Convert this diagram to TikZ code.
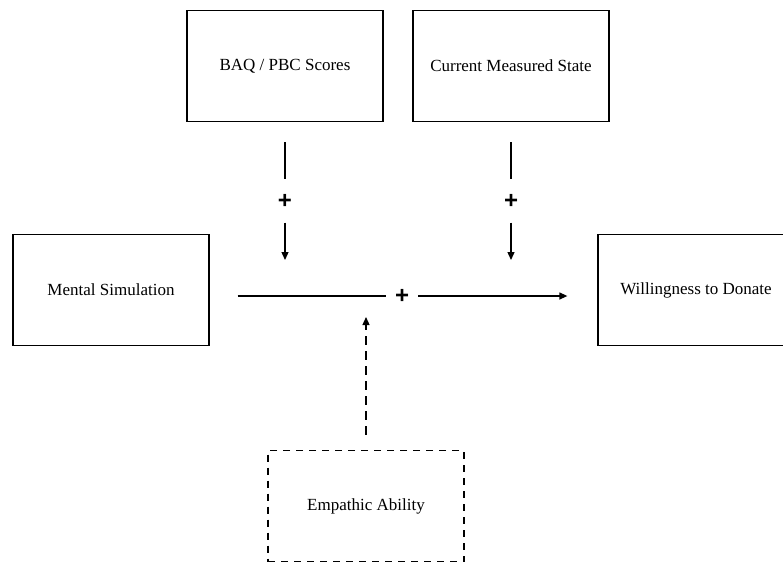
\documentclass[tikz,border=0pt]{standalone}
\usepackage{fontspec}
\setmainfont{Liberation Serif}
\newfontfamily\signefont{Liberation Sans}
\usetikzlibrary{arrows.meta}
\tikzset{
Boite/.style={
 draw=black, 
 line width=1.3pt, 
 minimum width=196pt, 
 minimum height=111pt, 
 font=\fontsize{17}{20}\selectfont
 },
BoitePointillee/.style={
 Boite, 
 dash pattern=on 7pt off 6pt
 },
Trait/.style={
 draw=black, 
 line width=1.3pt
 },
Fleche/.style={
 Trait, 
 -{Triangle[length=8pt,width=7pt]}
 },
FlechePointillee/.style={
 Fleche, 
 dash pattern=on 9pt off 6pt
 },
Signe/.style={
 font=\signefont\bfseries\fontsize{24}{24}\selectfont, 
 inner sep=0pt, 
 minimum width=32pt, 
 minimum height=43pt
 }
}

\begin{document}
\begin{tikzpicture}[x=1pt,y=-1pt]
\useasboundingbox (0,0) rectangle (783,563);
\node[Boite] (baq) at (285,66) {BAQ / PBC Scores};
\node[Boite] (etat) at (511,66) {Current Measured State};
\node[Boite] (simulation) at (111,290) {Mental Simulation};
\node[Boite] (don) at (696,290) {Willingness to Donate};
\node[BoitePointillee] (empathie) at (366,506) {Empathic Ability};
\node[Signe] (plusbaq) at (285,201) {+};
\node[Signe] (plusetat) at (511,201) {+};
\node[Signe] (plus) at (402,296) {+};
\coordinate (ciblebaq) at (285,260);
\coordinate (cibleetat) at (511,260);
\coordinate (cibleemp) at (366,317);
\draw[Trait,shorten <=20pt] (baq) -- (plusbaq);
\draw[Fleche] (plusbaq) -- (ciblebaq);
\draw[Trait,shorten <=20pt] (etat) -- (plusetat);
\draw[Fleche] (plusetat) -- (cibleetat);
\draw[Trait,shorten <=28pt] (simulation.east |- plus) -- (plus);
\draw[Fleche,shorten >=30pt] (plus) -- (don.west |- plus);
\draw[FlechePointillee,shorten <=15pt] (empathie) -- (cibleemp);
\end{tikzpicture}
\end{document}
